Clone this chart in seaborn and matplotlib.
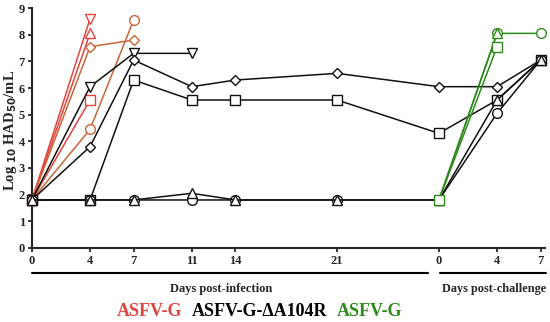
import numpy as np
import pandas as pd
import matplotlib
matplotlib.use("Agg")
import matplotlib.pyplot as plt
import seaborn as sns

# x positions (challenge days shifted by 28) and their labels
days = [0, 4, 7, 11, 14, 21, 28, 32, 35]
day_labels = ["0", "4", "7", "11", "14", "21", "0", "4", "7"]
nan = np.nan

# ASFV-G infected (died by day 4/7)
red_days = [0, 4, 7]
red_tri_down = [1.8, 8.6, nan]
red_tri_up = [1.8, 8.05, nan]
red_diamond = [1.8, 7.55, 7.8]
red_circle = [1.8, 4.45, 8.55]
red_square = [1.8, 5.55, nan]

# ASFV-G-dA104R infected, then challenged
blk_tri_down = [1.8, 6.05, 7.3, 7.3, nan, nan, nan, nan, nan]
blk_diamond = [1.8, 3.8, 7.05, 6.05, 6.3, 6.55, 6.05, 6.05, 7.05]
blk_square = [1.8, 1.8, 6.3, 5.55, 5.55, 5.55, 4.3, 5.55, 7.05]
blk_circle = [1.8, 1.8, 1.8, 1.8, 1.8, 1.8, 1.8, 5.05, 7.05]
blk_tri_up = [1.8, 1.8, 1.8, 2.05, 1.8, 1.8, 1.8, 5.55, 7.05]

# ASFV-G challenge controls
grn_days = [28, 32, 35]
grn_circle = [1.8, 8.05, 8.05]
grn_tri_up = [1.8, 8.05, nan]
grn_square = [1.8, 7.55, nan]

RED = "#e2453f"
BROWN = "#c8663a"
GREEN = "#2f8a1c"
BLACK = "#111111"

sns.set_style("ticks")
plt.rcParams["font.family"] = ["Liberation Serif", "DejaVu Serif"]
plt.rcParams["font.weight"] = "bold"

fig = plt.figure(figsize=(5.5, 3.22), dpi=100)
ax = fig.add_axes([0.058, 0.230, 0.933, 0.745])

series = [
    (red_days, red_tri_down, "v", RED),
    (red_days, red_tri_up, "^", RED),
    (red_days, red_square, "s", RED),
    (red_days, red_diamond, "D", BROWN),
    (red_days, red_circle, "o", BROWN),
    (days, blk_tri_down, "v", BLACK),
    (days, blk_diamond, "D", BLACK),
    (days, blk_square, "s", BLACK),
    (days, blk_circle, "o", BLACK),
    (days, blk_tri_up, "^", BLACK),
    (grn_days, grn_circle, "o", GREEN),
    (grn_days, grn_tri_up, "^", GREEN),
    (grn_days, grn_square, "s", GREEN),
]

for x, y, m, c in series:
    d = pd.DataFrame({"day": x, "titer": y}).dropna()
    ms = 5 if m == "D" else 7
    sns.lineplot(data=d, x="day", y="titer", ax=ax, color=c, marker=m,
                 markersize=ms, markerfacecolor="white", markeredgecolor=c,
                 markeredgewidth=1.0, linewidth=1.1, clip_on=False, zorder=3)

ax.set_xlim(0, 35.3)
ax.set_ylim(0, 9)
ax.set_xticks(days)
ax.set_xticklabels(day_labels)
ax.set_yticks(range(0, 10))
ax.set_xlabel("")
ax.set_ylabel("Log $_{10}$ HAD$_{50}$/mL", fontsize=10.5, fontweight="bold",
              va="center")
ax.yaxis.set_label_coords(-0.042, 0.49)
ax.tick_params(labelsize=9, width=1.3, length=3, pad=2)
for lab in ax.get_xticklabels() + ax.get_yticklabels():
    lab.set_fontweight("bold")
sns.despine(ax=ax)
for s in ["left", "bottom"]:
    ax.spines[s].set_linewidth(1.5)

# brackets and period labels under the axis
fig.add_artist(plt.Line2D([32 / 550, 428 / 550], [1 - 273 / 322] * 2,
                          color="black", lw=1.5))
fig.add_artist(plt.Line2D([440 / 550, 546 / 550], [1 - 273 / 322] * 2,
                          color="black", lw=1.5))
fig.text(221 / 550, 1 - 289 / 322, "Days post-infection", ha="center",
         va="center", fontsize=9, fontweight="bold")
fig.text(494 / 550, 1 - 289 / 322, "Days post-challenge", ha="center",
         va="center", fontsize=8.8, fontweight="bold")

# group legend
fig.text(150 / 550, 1 - 311 / 322, "ASFV-G", ha="center", va="center",
         fontsize=13, fontweight="bold", color=RED)
fig.text(260 / 550, 1 - 311 / 322, "ASFV-G-ΔA104R", ha="center", va="center",
         fontsize=13, fontweight="bold", color="black")
fig.text(370 / 550, 1 - 311 / 322, "ASFV-G", ha="center", va="center",
         fontsize=13, fontweight="bold", color=GREEN)

fig.savefig("out.png", dpi=100)
